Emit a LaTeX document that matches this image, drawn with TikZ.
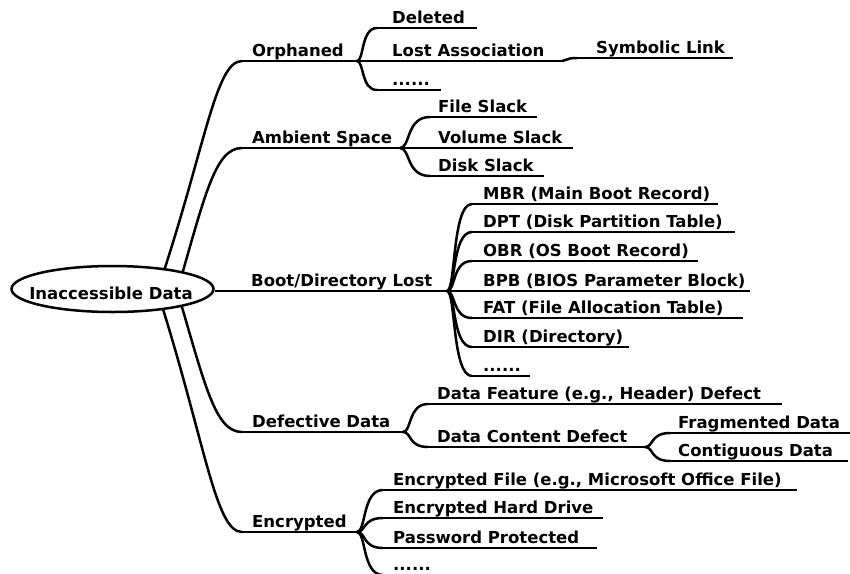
\documentclass[tikz,border=0pt]{standalone}
\usepackage{fontspec}
\setmainfont{DejaVu Sans}
\usetikzlibrary{shapes.geometric,calc}
\tikzset{
  ln/.style={line width=2.5pt},
  lbl/.style={inner sep=0pt, anchor=base west, font=\bfseries\fontsize{16.5}{19}\selectfont},
  rootshape/.style={draw, ellipse, line width=2.5pt, fill=white, inner sep=0pt,
                    minimum width=202pt, minimum height=46pt},
}
% item: name, line start x, line end x, line y, text x, text
\newcommand\mmitem[6]{%
  \coordinate (#1s) at (#2,#4);
  \coordinate (#1e) at (#3,#4);
  \node[lbl] (#1) at (#5,{#4-5}) {#6};
  \draw[ln] (#1s) -- (#1e);}
% link from parent line end to child line start
\newcommand\mmlink[2]{%
  \draw[ln] let \p1=(#1), \p2=(#2) in
    (\p1) .. controls ({\x1+0.35*(\x2-\x1)},\y1) and ({\x1+0.2*(\x2-\x1)},\y2) .. (\p2);}
\begin{document}
\begin{tikzpicture}[x=1pt,y=-1pt]
\clip (0,0) rectangle (850,573);
\fill[white] (0,0) rectangle (850,573);

% level 1
\mmitem{orph}{242}{357}{61}{252}{Orphaned}
\mmitem{amb}{242}{400}{148}{252}{Ambient Space}
\mmitem{boot}{215}{447}{291}{251}{Boot/Directory Lost}
\mmitem{def}{242}{403}{432}{252}{Defective Data}
\mmitem{enc}{242}{357}{532}{252}{Encrypted}

% root curves
\coordinate (r1) at (157,292);
\coordinate (r2) at (177,292);
\coordinate (r3) at (177,290);
\coordinate (r4) at (157,290);
\draw[ln] (r1) .. controls (205,150) and (215,61) .. (orphs);
\draw[ln] (r2) .. controls (205,195) and (215,148) .. (ambs);
\draw[ln] (r3) .. controls (205,385) and (215,432) .. (defs);
\draw[ln] (r4) .. controls (205,440) and (215,532) .. (encs);

% root
\node[rootshape] (root) at (112.5,289) {};
\node[lbl, anchor=base] (roottext) at (111,299) {Inaccessible Data};

% Orphaned children
\mmitem{del}{377}{477}{28}{392}{Deleted}
\mmitem{lost}{377}{562}{61}{392}{Lost Association}
\mmitem{odots}{377}{441}{90}{392}{......}
\mmitem{sym}{577}{733}{58}{596}{Symbolic Link}
\mmlink{orphe}{dels}
\mmlink{orphe}{losts}
\mmlink{orphe}{odotss}
\mmlink{loste}{syms}

% Ambient children
\mmitem{fs}{430}{537}{117}{438}{File Slack}
\mmitem{vs}{430}{573}{148}{438}{Volume Slack}
\mmitem{ds}{430}{544}{176}{438}{Disk Slack}
\mmlink{ambe}{fss}
\mmlink{ambe}{vss}
\mmlink{ambe}{dss}

% Boot children
\mmitem{mbr}{472}{718}{204}{483}{MBR (Main Boot Record)}
\mmitem{dpt}{472}{735}{232}{483}{DPT (Disk Partition Table)}
\mmitem{obr}{472}{698}{261}{483}{OBR (OS Boot Record)}
\mmitem{bpb}{472}{750}{291}{483}{BPB (BIOS Parameter Block)}
\mmitem{fat}{472}{743}{318}{483}{FAT (File Allocation Table)}
\mmitem{dir}{472}{629}{347}{483}{DIR (Directory)}
\mmitem{bdots}{472}{530}{376}{483}{......}
\mmlink{boote}{mbrs}
\mmlink{boote}{dpts}
\mmlink{boote}{obrs}
\mmlink{boote}{bpbs}
\mmlink{boote}{fats}
\mmlink{boote}{dirs}
\mmlink{boote}{bdotss}

% Defective children
\mmitem{dfeat}{428}{782}{404}{437}{Data Feature (e.g., Header) Defect}
\mmitem{dcont}{428}{645}{447}{437}{Data Content Defect}
\mmitem{frag}{670}{860}{433}{678}{Fragmented Data}
\mmitem{cont}{670}{848}{461}{678}{Contiguous Data}
\mmlink{defe}{dfeats}
\mmlink{defe}{dconts}
\mmlink{dconte}{frags}
\mmlink{dconte}{conts}

% Encrypted children
\mmitem{efile}{383}{797}{490}{393}{Encrypted File (e.g., Microsoft Office File)}
\mmitem{ehd}{383}{603}{518}{393}{Encrypted Hard Drive}
\mmitem{pw}{383}{597}{548}{393}{Password Protected}
\mmitem{edots}{383}{440}{575}{393}{......}
\mmlink{ence}{efiles}
\mmlink{ence}{ehds}
\mmlink{ence}{pws}
\mmlink{ence}{edotss}
\end{tikzpicture}
\end{document}
